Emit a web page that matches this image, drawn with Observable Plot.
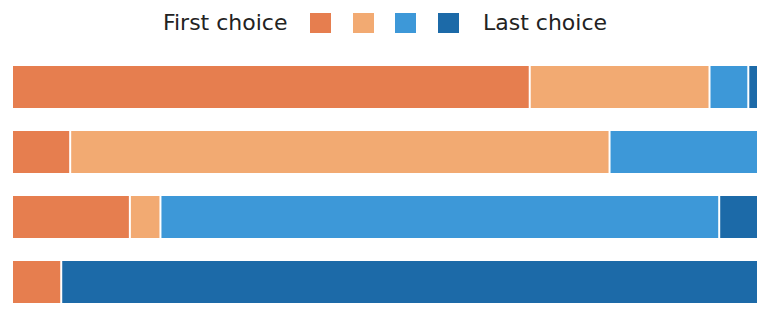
<!DOCTYPE html>
<html>
<head>
<meta charset="utf-8">
<script src="https://cdn.jsdelivr.net/npm/d3@7"></script>
<script src="https://cdn.jsdelivr.net/npm/@observablehq/plot@0.6"></script>
<style>
  html, body { margin: 0; padding: 0; background: #fff; }
  #legend {
    height: 45px; display: flex; align-items: center; justify-content: center;
    font-family: "DejaVu Sans", sans-serif; font-size: 22px; color: #222;
    padding-left: 6px; box-sizing: border-box; width: 764px;
  }
  #legend .sw { width: 21px; height: 20px; display: inline-block; }
</style>
</head>
<body>
<div id="legend"></div>
<div id="chart"></div>
<script>
const rows = ["A", "B", "C", "D"];
const choices = ["1st", "2nd", "3rd", "4th"];
const colors = ["#e67e4f", "#f2aa72", "#3d98d8", "#1c6aa8"];
const legendLabels = ["First choice", "Last choice"];
const values1st = [69.4, 7.8, 15.8, 6.6];
const values2nd = [24.1, 72.3, 4.1, 0];
const values3rd = [5.2, 19.9, 74.9, 0];
const values4th = [1.3, 0, 5.2, 93.4];

const series = [values1st, values2nd, values3rd, values4th];
const data = [];
rows.forEach((r, i) => {
  choices.forEach((c, j) => {
    const v = series[j][i];
    if (v > 0) data.push({row: r, choice: c, value: v});
  });
});

// legend
const leg = document.getElementById("legend");
const t1 = document.createElement("span");
t1.textContent = legendLabels[0];
t1.style.marginRight = "23px";
leg.appendChild(t1);
colors.forEach((col, i) => {
  const s = document.createElement("span");
  s.className = "sw";
  s.style.background = col;
  if (i < colors.length - 1) s.style.marginRight = "21.5px";
  leg.appendChild(s);
});
const t2 = document.createElement("span");
t2.textContent = legendLabels[1];
t2.style.marginLeft = "24px";
leg.appendChild(t2);

const chart = Plot.plot({
  width: 764,
  height: 266,
  marginTop: 20,
  marginBottom: 8,
  marginLeft: 12,
  marginRight: 6,
  x: {domain: [0, 100], axis: null},
  y: {domain: rows, axis: null, paddingInner: 0.357, paddingOuter: 0},
  color: {domain: choices, range: colors},
  marks: [
    Plot.barX(data, {
      x: "value", y: "row", fill: "choice",
      insetLeft: 1, insetRight: 1
    })
  ]
});
document.getElementById("chart").appendChild(chart);
</script>
</body>
</html>
